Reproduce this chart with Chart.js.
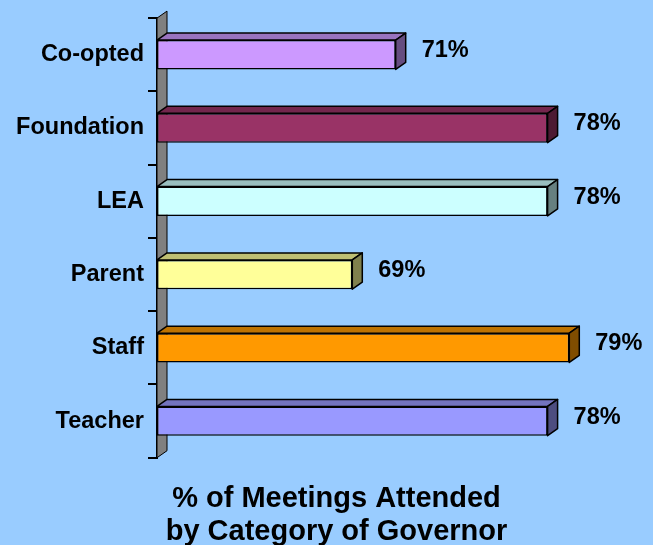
<!DOCTYPE html>
<html>
<head>
<meta charset="utf-8">
<script src="https://cdn.jsdelivr.net/npm/chart.js@4/dist/chart.umd.min.js"></script>
<style>
  html, body { margin: 0; padding: 0; background: #99CCFF; }
  #wrap { width: 653px; height: 545px; }
</style>
</head>
<body>
<div id="wrap"><canvas id="chart" width="653" height="545"></canvas></div>
<script>
const categories = ["Co-opted", "Foundation", "LEA", "Parent", "Staff", "Teacher"];
const attendance = [71, 78, 78, 69, 79, 78];
const barColors = ["#CC99FF", "#993366", "#CCFFFF", "#FFFF99", "#FF9900", "#9999FF"];
const titleLines = ["% of Meetings Attended", "by Category of Governor"];

const FONT = "'Liberation Sans', Arial, sans-serif";
const DX = 10, DY = 7; // depth of the 3d effect

function shade(hex, f) {
  const n = parseInt(hex.slice(1), 16);
  const r = Math.round(((n >> 16) & 255) * f);
  const g = Math.round(((n >> 8) & 255) * f);
  const b = Math.round((n & 255) * f);
  return `rgb(${r},${g},${b})`;
}

const bar3d = {
  id: "bar3d",
  afterLayout(chart) {
    // let the long category labels draw past the narrow axis box
    chart.scales.y.left = 0;
  },
  beforeDatasetsDraw(chart) {
    const { ctx, chartArea } = chart;
    const l = chartArea.left, t = chartArea.top, b = chartArea.bottom;
    ctx.save();
    ctx.beginPath();
    ctx.moveTo(l, t);
    ctx.lineTo(l + DX, t - DY);
    ctx.lineTo(l + DX, b - DY);
    ctx.lineTo(l, b);
    ctx.closePath();
    ctx.fillStyle = "#808080";
    ctx.fill();
    ctx.lineWidth = 1;
    ctx.strokeStyle = "#000";
    ctx.stroke();
    ctx.restore();
  },
  afterDatasetsDraw(chart) {
    const { ctx } = chart;
    const meta = chart.getDatasetMeta(0);
    ctx.save();
    ctx.lineWidth = 1.5;
    ctx.strokeStyle = "#000";
    ctx.lineJoin = "round";
    meta.data.forEach((bar, i) => {
      const { x, y, base, height } = bar.getProps(["x", "y", "base", "height"], true);
      const top = y - height / 2, bottom = y + height / 2;
      // top face
      ctx.beginPath();
      ctx.moveTo(base, top);
      ctx.lineTo(base + DX, top - DY);
      ctx.lineTo(x + DX, top - DY);
      ctx.lineTo(x, top);
      ctx.closePath();
      ctx.fillStyle = shade(barColors[i], 0.75);
      ctx.fill();
      ctx.stroke();
      // side face
      ctx.beginPath();
      ctx.moveTo(x, top);
      ctx.lineTo(x + DX, top - DY);
      ctx.lineTo(x + DX, bottom - DY);
      ctx.lineTo(x, bottom);
      ctx.closePath();
      ctx.fillStyle = shade(barColors[i], 0.5);
      ctx.fill();
      ctx.stroke();
      // value label
      ctx.fillStyle = "#000";
      ctx.font = "bold 23.5px " + FONT;
      ctx.textAlign = "left";
      ctx.textBaseline = "middle";
      ctx.fillText(attendance[i] + "%", x + DX + 16, y - 4);
    });
    ctx.restore();
  }
};

new Chart(document.getElementById("chart"), {
  type: "bar",
  data: {
    labels: categories,
    datasets: [{
      data: attendance,
      base: 60,
      backgroundColor: barColors,
      borderColor: "#000",
      borderWidth: 1.5,
      borderSkipped: false,
      barPercentage: 0.4,
      categoryPercentage: 1
    }]
  },
  options: {
    indexAxis: "y",
    responsive: false,
    animation: false,
    layout: { padding: { left: 82, right: 62, top: 17, bottom: 0 } },
    scales: {
      x: { display: false, min: 60, max: 80 },
      y: {
        afterFit(scale) { scale.width = 75; },
        grid: {
          drawOnChartArea: false,
          drawTicks: true,
          tickLength: 9,
          color: "#000",
          lineWidth: 2
        },
        border: { display: true, color: "#000", width: 2 },
        ticks: {
          color: "#000",
          padding: 4,
          font: { family: FONT, size: 23.5, weight: "bold" }
        }
      }
    },
    plugins: {
      legend: { display: false },
      tooltip: { enabled: false },
      title: {
        display: true,
        position: "bottom",
        text: titleLines,
        color: "#000",
        padding: { top: 24, bottom: -4 },
        font: { family: FONT, size: 29, weight: "bold", lineHeight: 1.16 }
      }
    }
  },
  plugins: [bar3d]
});
</script>
</body>
</html>
